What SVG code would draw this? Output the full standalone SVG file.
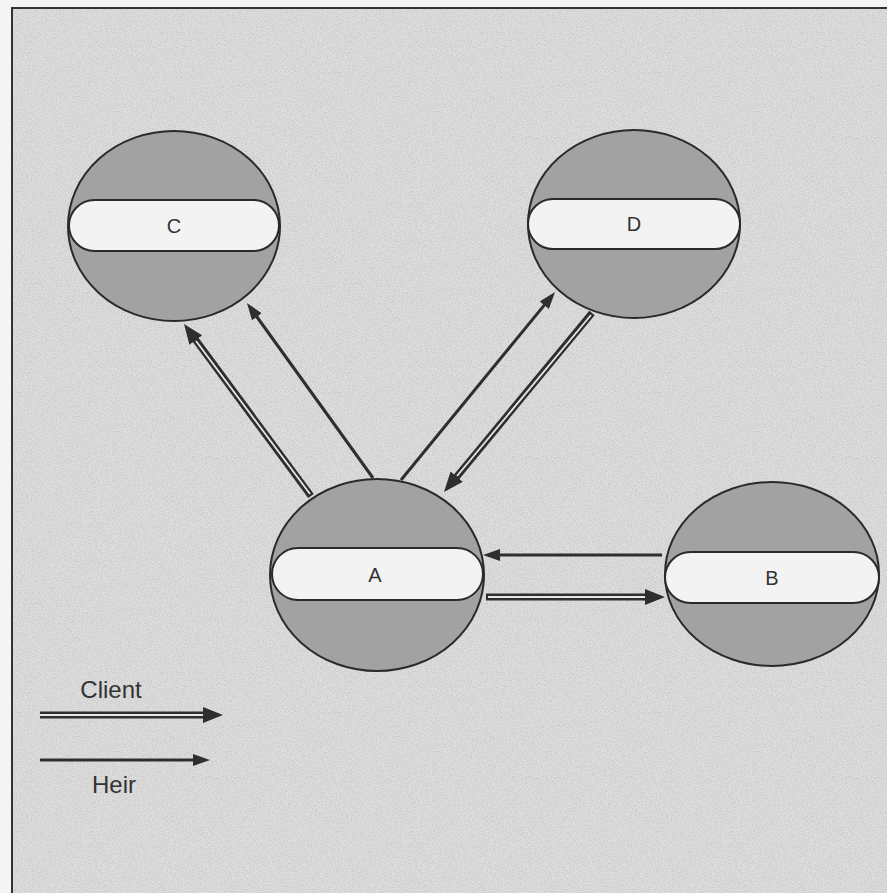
<svg xmlns="http://www.w3.org/2000/svg" width="887" height="893" viewBox="0 0 887 893">
<style>
.bg{fill:#dedede}
.frame{fill:none;stroke:#333;stroke-width:2}
.ball{fill:#a2a2a2;stroke:#2a2a2a;stroke-width:2}
.pill{fill:#f3f3f3;stroke:#2a2a2a;stroke-width:2}
.lbl{font-family:"Liberation Sans",Arial,sans-serif;font-size:20px;fill:#333;text-anchor:middle}
.leg{font-family:"Liberation Sans",Arial,sans-serif;font-size:24px;fill:#333;text-anchor:middle}
.heir{stroke:#2e2e2e;stroke-width:3;fill:none}
.cout{stroke:#2e2e2e;stroke-width:7;fill:none}
.cin{stroke:#e6e6e6;stroke-width:1.8;fill:none}
</style>
<defs>
<marker id="ah" markerUnits="userSpaceOnUse" markerWidth="20" markerHeight="16" refX="1" refY="8" orient="auto"><path d="M0,0 L20,8 L0,16 Z" fill="#2e2e2e"/></marker>
<marker id="hh" markerUnits="userSpaceOnUse" markerWidth="17" markerHeight="12" refX="1" refY="6" orient="auto"><path d="M0,0 L17,6 L0,12 Z" fill="#2e2e2e"/></marker>
<filter id="noise" x="0" y="0" width="100%" height="100%">
<feTurbulence type="fractalNoise" baseFrequency="0.8" numOctaves="2" seed="3"/>
<feColorMatrix type="matrix" values="0 0 0 0 0  0 0 0 0 0  0 0 0 0 0  0 0 0 -1.2 0.75"/>
</filter>
</defs>
<rect width="887" height="893" fill="#f4f4f4"/>
<rect x="12" y="8" width="880" height="890" class="bg"/>
<rect x="12" y="8" width="880" height="890" filter="url(#noise)" opacity="0.18"/>
<path d="M12,893 L12,8 L887,8" class="frame"/>
<g id="connectors">
<path class="cout" d="M311,496 L195.3,339.3" marker-end="url(#ah)"/>
<path class="cin" d="M310,494 L196,341"/>
<path class="heir" d="M373,478 L256.3,316" marker-end="url(#hh)"/>
<path class="heir" d="M401,480 L544.9,304.4" marker-end="url(#hh)"/>
<path class="cout" d="M592,313 L456.1,477.4" marker-end="url(#ah)"/>
<path class="cin" d="M591,315 L457,476"/>
<path class="heir" d="M662,555 L499,555" marker-end="url(#hh)"/>
<path class="cout" d="M486,597 L646,597" marker-end="url(#ah)"/>
<path class="cin" d="M488,597 L645,597"/>
</g>
<g id="node-C">
<ellipse class="ball" cx="174" cy="226" rx="106" ry="95"/>
<rect class="pill" x="69" y="200" width="210" height="51" rx="25.5"/>
<text class="lbl" x="174" y="233">C</text>
</g>
<g id="node-D">
<ellipse class="ball" cx="634" cy="224" rx="106" ry="94"/>
<rect class="pill" x="528" y="199" width="212" height="50" rx="25"/>
<text class="lbl" x="634" y="231">D</text>
</g>
<g id="node-A">
<ellipse class="ball" cx="377" cy="575" rx="107" ry="96"/>
<rect class="pill" x="272" y="548" width="211" height="52" rx="26"/>
<text class="lbl" x="375" y="582">A</text>
</g>
<g id="node-B">
<ellipse class="ball" cx="772" cy="574" rx="107" ry="92"/>
<rect class="pill" x="665" y="552" width="214" height="51" rx="25.5"/>
<text class="lbl" x="772" y="585">B</text>
</g>
<g id="legend">
<text class="leg" x="111" y="698">Client</text>
<path class="cout" d="M40,715 L204,715" marker-end="url(#ah)"/>
<path class="cin" d="M40,715 L203,715"/>
<path class="heir" d="M40,760 L194,760" marker-end="url(#hh)"/>
<text class="leg" x="114" y="793">Heir</text>
</g>
</svg>
